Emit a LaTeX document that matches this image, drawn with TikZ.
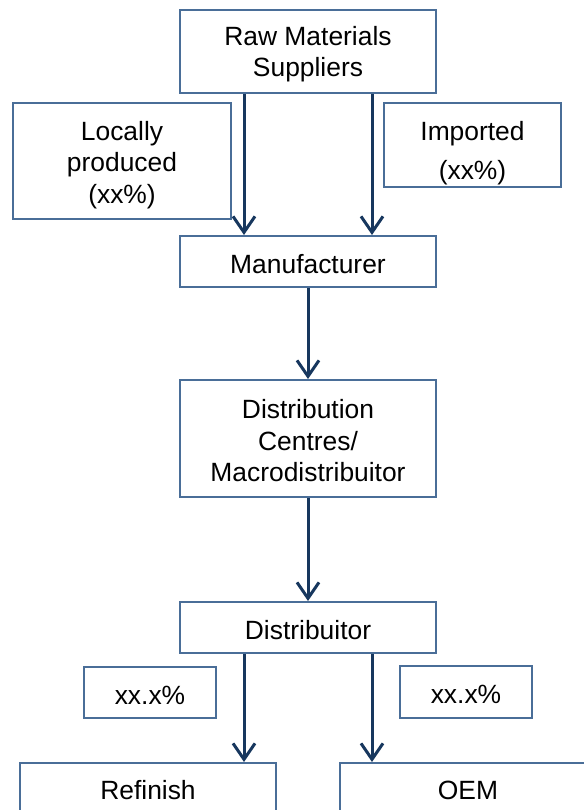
\documentclass[tikz,border=0pt]{standalone}
\usepackage{fontspec}
\setmainfont{Liberation Sans}
\usetikzlibrary{arrows.meta}
\definecolor{boxline}{RGB}{74,110,152}
\definecolor{arrline}{RGB}{23,55,94}
\newcommand{\boxstrut}[1][12pt]{\rule{0pt}{#1}}
\tikzset{
	box/.style={draw=boxline,line width=1pt,align=center,inner sep=0pt,font=\fontsize{13.2pt}{15.7pt}\selectfont},
	arr/.style={draw=arrline,line width=1.5pt,-{Straight Barb[length=8pt,width=11pt,line width=1.5pt]}}
}
\begin{document}
	\begin{tikzpicture}[x=0.5pt,y=0.5pt]
		\useasboundingbox (0,0) rectangle (584,810);
		\clip (0,0) rectangle (584,810);
		\node[box,minimum width=128pt,minimum height=41.5pt] (rm) at (308,758.5) {\boxstrut Raw Materials\\Suppliers};
		\node[box,minimum width=109pt,minimum height=58pt] (loc) at (122,649) {\boxstrut[13.5pt]Locally\\produced\\(xx\%)};
		\node[box,minimum width=88.5pt,minimum height=42pt] (imp) at (472.5,665) {\boxstrut[17.6pt]Imported\\[4pt](xx\%)};
		\node[box,minimum width=128pt,minimum height=25.5pt] (manu) at (308,548.5) {\boxstrut Manufacturer};
		\node[box,minimum width=128pt,minimum height=58.5pt] (dc) at (308,371.5) {\boxstrut Distribution\\Centres/\\Macrodistribuitor};
		\node[box,minimum width=128pt,minimum height=25.5pt] (dist) at (308,182.5) {\boxstrut Distribuitor};
		\node[box,minimum width=66pt,minimum height=25.5pt] (pl) at (150,117.5) {\boxstrut xx.x\%};
		\node[box,minimum width=66pt,minimum height=26pt] (pr) at (466,118) {\boxstrut xx.x\%};
		\node[box,minimum width=128pt,minimum height=27pt,anchor=north] (ref) at (148,48) {Refinish};
		\node[box,minimum width=128pt,minimum height=27pt,anchor=north] (oem) at (468,48) {OEM};

		\draw[arr] ([xshift=-32pt]rm.south) -- ([xshift=-32pt]manu.north);
		\draw[arr] ([xshift=32pt]rm.south) -- ([xshift=32pt]manu.north);
		\draw[arr] (manu) -- (dc);
		\draw[arr] (dc) -- (dist);
		\draw[arr] ([xshift=-32pt]dist.south) -- ([xshift=-32pt]dist.south |- ref.north);
		\draw[arr] ([xshift=32pt]dist.south) -- ([xshift=32pt]dist.south |- oem.north);
	\end{tikzpicture}
\end{document}
